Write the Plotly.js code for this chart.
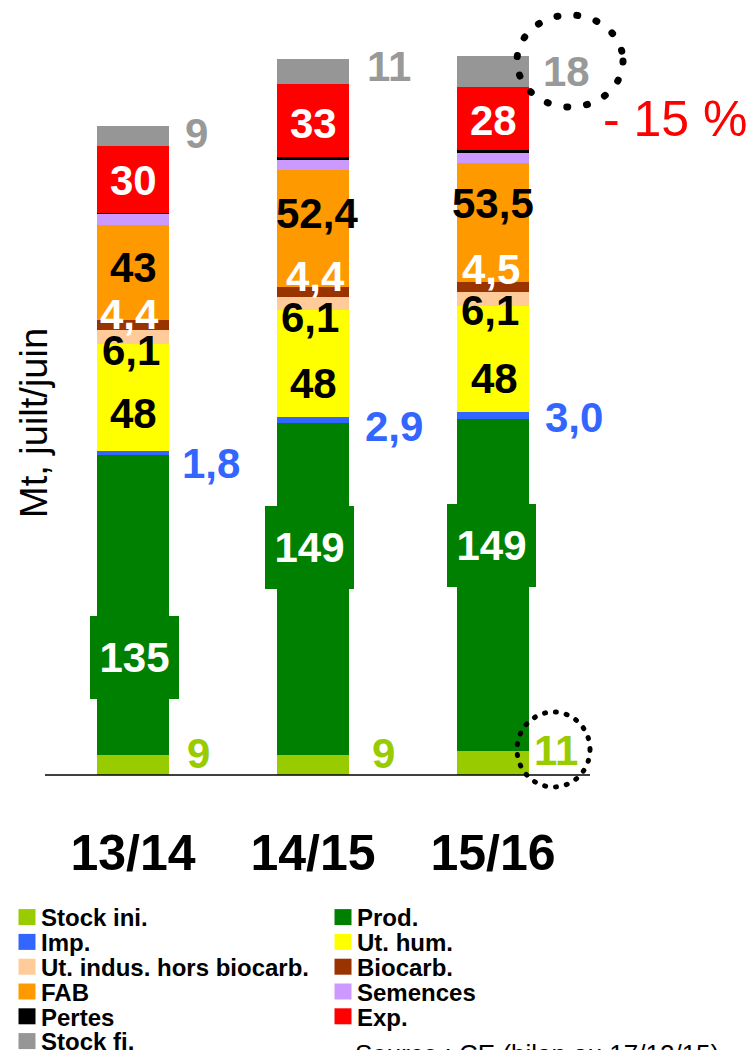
<!DOCTYPE html>
<html>
<head>
<meta charset="utf-8">
<script src="https://cdn.plot.ly/plotly-3.0.1.min.js"></script>
<style>
html, body { margin: 0; padding: 0; background: #ffffff; }
#chart { width: 755px; height: 1050px; }
</style>
</head>
<body>
<div id="chart"></div>
<script>
// ---------------- DATA ----------------
const categories = ["13/14", "14/15", "15/16"];
const seriesNames = ["Stock ini.", "Prod.", "Imp.", "Ut. hum.", "Ut. indus. hors biocarb.",
                     "Biocarb.", "FAB", "Semences", "Pertes", "Exp.", "Stock fi."];
const stockIni = [9, 9, 11];
const prod     = [135, 149, 149];
const imp      = [1.8, 2.9, 3.0];
const utHum    = [48, 48, 48];
const utIndus  = [6.1, 6.1, 6.1];
const biocarb  = [4.4, 4.4, 4.5];
const fab      = [43, 52.4, 53.5];
const semences = [4.9, 4.5, 4.5];
const pertes   = [0.6, 1.4, 1.4];
const expo     = [30, 33, 28];
const stockFi  = [9, 11, 14];

const labelsStockIni = ["9", "9", "11"];
const labelsProd     = ["135", "149", "149"];
const labelsImp      = ["1,8", "2,9", "3,0"];
const labelsUtHum    = ["48", "48", "48"];
const labelsUtIndus  = ["6,1", "6,1", "6,1"];
const labelsBiocarb  = ["4,4", "4,4", "4,5"];
const labelsFab      = ["43", "52,4", "53,5"];
const labelsExp      = ["30", "33", "28"];
const labelsStockFi  = ["9", "11", "18"];
const variationText  = "- 15 %";
const yTitleText     = "Mt, juilt/juin";
const sourceText     = "Source : CE (bilan au 17/12/15)";

// ---------------- STYLE / GEOMETRY ----------------
const FONT = "Liberation Sans, Arial, Helvetica, sans-serif";
const colors = ["#99CC00", "#008000", "#3366FF", "#FFFF00", "#FFCC99",
                "#993300", "#FF9900", "#CC99FF", "#000000", "#FF0000", "#969696"];
const W = 755, H = 1050;
const L = 43, R = 740, T = 20, B = 775;    // plot area in pixels
const SLOT = 180, X0PX = 43;                // category slot width and left edge of first slot
const SCALE = 2.225;                        // px per Mt
function xData(px) { return -0.5 + (px - X0PX) / SLOT; }
function cx(i) { return X0PX + (i + 0.5) * SLOT; }
function yData(py) { return (B - py) / SCALE; }
function pX(px) { return (px - L) / (R - L); }
function pY(py) { return (B - py) / (B - T); }

const values = [stockIni, prod, imp, utHum, utIndus, biocarb, fab, semences, pertes, expo, stockFi];
const traces = values.map((v, k) => ({
  type: "bar",
  name: seriesNames[k],
  x: categories,
  y: v,
  marker: { color: colors[k], line: { width: 0 } },
  hoverinfo: "skip"
}));

// label positions (pixel centres), layout only
const POS = {
  exp:      [[133, 180], [313, 123], [493, 120]],
  fab:      [[133, 267], [317, 213], [493, 203]],
  biocarb:  [[129, 314], [315, 276], [491, 269]],
  utIndus:  [[131, 350], [310, 317], [490, 310]],
  utHum:    [[133, 413], [313, 383], [494, 378]],
  prod:     [[134.5, 657.5], [309.5, 547.5], [491.5, 545.5]],
  stockFi:  [[196, 133], [389, 66], [566, 71]],
  imp:      [[211, 463], [394, 426], [574, 417]],
  stockIni: [[198, 753], [383, 753], [556, 750]]
};

function labels(texts, pos, color, extra) {
  return texts.map((t, i) => Object.assign({
    xref: "x", yref: "y",
    x: categories[i], y: yData(pos[i][1]),
    xshift: pos[i][0] - cx(i),
    text: t, showarrow: false,
    xanchor: "center", yanchor: "middle",
    font: { family: FONT, size: 42, color: color, weight: 700 }
  }, extra || {}));
}

let annotations = [].concat(
  labels(labelsExp, POS.exp, "#FFFFFF"),
  labels(labelsFab, POS.fab, "#000000"),
  labels(labelsBiocarb, POS.biocarb, "#FFFFFF"),
  labels(labelsUtIndus, POS.utIndus, "#000000"),
  labels(labelsUtHum, POS.utHum, "#000000"),
  labels(labelsProd, POS.prod, "#FFFFFF", { bgcolor: "#008000", width: 89, height: 83, borderpad: 0, borderwidth: 0 }),
  labels(labelsStockFi, POS.stockFi, "#999999"),
  labels(labelsImp, POS.imp, "#3366FF"),
  labels(labelsStockIni, POS.stockIni, "#99CC00")
);

annotations.push({
  xref: "paper", yref: "paper", x: pX(675), y: pY(119),
  text: variationText, showarrow: false, xanchor: "center", yanchor: "middle",
  font: { family: FONT, size: 50, color: "#FF0000" }
});
annotations.push({
  xref: "paper", yref: "paper", x: pX(34), y: pY(423),
  text: yTitleText, textangle: -90, showarrow: false, xanchor: "center", yanchor: "middle",
  font: { family: FONT, size: 38, color: "#000000" }
});
annotations.push({
  xref: "paper", yref: "paper", x: pX(353), y: pY(1037),
  text: sourceText, showarrow: false, xanchor: "left", yanchor: "top",
  font: { family: FONT, size: 26, color: "#000000" }
});

const shapes = [
  { type: "line", xref: "paper", yref: "paper", x0: pX(45), x1: pX(590), y0: 0, y1: 0,
    line: { color: "#000000", width: 1.5 } },
  { type: "circle", xref: "paper", yref: "paper", x0: pX(517), x1: pX(623), y0: pY(107), y1: pY(15),
    line: { color: "#000000", width: 7, dash: "1px,19px" } },
  { type: "circle", xref: "paper", yref: "paper", x0: pX(517), x1: pX(590), y0: pY(787), y1: pY(712),
    line: { color: "#000000", width: 5, dash: "1px,10px" } }
];

const layout = {
  width: W, height: H,
  margin: { l: L, r: W - R, t: T, b: H - B, autoexpand: false },
  paper_bgcolor: "#ffffff", plot_bgcolor: "rgba(0,0,0,0)",
  barmode: "stack", bargap: 0.6,
  font: { family: FONT, color: "#000000" },
  xaxis: {
    type: "category", range: [xData(L), xData(R)],
    showgrid: false, zeroline: false, showline: false, ticks: "",
    tickfont: { family: FONT, size: 50, color: "#000000", weight: 700 },
    ticklabelstandoff: 44, fixedrange: true
  },
  yaxis: {
    range: [0, (B - T) / SCALE],
    showgrid: false, zeroline: false, showline: false, ticks: "", showticklabels: false,
    fixedrange: true
  },
  showlegend: true,
  legend: {
    orientation: "h", traceorder: "normal",
    xref: "container", yref: "container", x: 7 / W, y: 1 - 895 / H, xanchor: "left", yanchor: "top",
    font: { family: FONT, size: 24, color: "#000000", weight: 700 },
    entrywidth: 271, entrywidthmode: "pixels",
    bgcolor: "rgba(0,0,0,0)", borderwidth: 0
  },
  annotations: annotations,
  shapes: shapes
};

const gd = document.getElementById("chart");
Plotly.newPlot(gd, traces, layout, { displayModeBar: false, staticPlot: true }).then(function () {
  const ROWH = 24.8;
  const items = Array.from(gd.querySelectorAll(".legend .traces"));
  const parsed = items.map(g => {
    const m = /translate\(\s*([-\d.e]+)[ ,]+([-\d.e]+)/.exec(g.getAttribute("transform") || "");
    return [g, m ? +m[1] : 0, m ? +m[2] : 0];
  });
  const ys = Array.from(new Set(parsed.map(p => p[2]))).sort((a, b) => a - b);
  parsed.forEach(([g, x, y]) => {
    const row = ys.indexOf(y);
    g.setAttribute("transform", "translate(" + x + "," + (ys[0] + row * ROWH) + ")");
  });
  gd.querySelectorAll(".legend .legendpoints path").forEach(p => p.setAttribute("d", "M8.5,8H-8.5V-8H8.5Z"));
  gd.querySelectorAll(".legend text.legendtext").forEach(t => {
    const x = parseFloat(t.getAttribute("x") || "40");
    t.setAttribute("x", x - 6);
    t.querySelectorAll("tspan[x]").forEach(s => s.setAttribute("x", parseFloat(s.getAttribute("x")) - 6));
  });
  gd.querySelectorAll(".shapelayer path").forEach(p => {
    const d = p.style.strokeDasharray;
    if (d && d !== "none") p.style.strokeLinecap = "round";
  });
});
</script>
</body>
</html>
